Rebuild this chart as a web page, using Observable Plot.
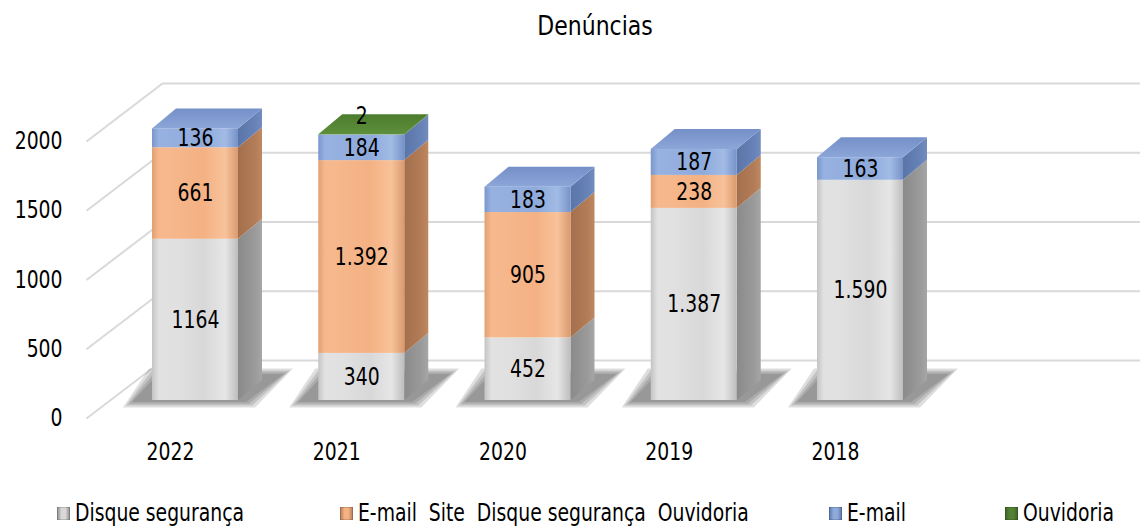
<!DOCTYPE html>
<html>
<head>
<meta charset="utf-8">
<script src="https://cdn.jsdelivr.net/npm/d3@7"></script>
<script src="https://cdn.jsdelivr.net/npm/@observablehq/plot@0.6"></script>
<style>
  html, body { margin: 0; padding: 0; background: #fff; }
  body { width: 1140px; height: 529px; position: relative; overflow: hidden;
         font-family: "Liberation Sans Narrow", "DejaVu Sans Condensed", "Arial Narrow", sans-serif; color: #000; }
  #title { position: absolute; top: 11px; left: 595px; transform: translateX(-50%) scaleX(0.94); font-size: 26px; white-space: nowrap; }
  #chart { position: absolute; top: 55px; left: 0; }
  .leg { position: absolute; top: 499px; height: 28px; display: flex; align-items: center; white-space: pre; }
  .leg span { display: inline-block; font-size: 24px; transform: scaleX(0.87); transform-origin: left center; }
  .sw { width: 13px; height: 13px; margin-right: 5px; flex: none; }
</style>
</head>
<body>
<svg width="0" height="0" style="position:absolute">
  <defs>
    <linearGradient id="fGray" x1="0" x2="1" y1="0" y2="0">
      <stop offset="0" stop-color="#c4c4c4"/><stop offset="0.08" stop-color="#e2e2e2"/><stop offset="0.3" stop-color="#e0e0e0"/><stop offset="0.6" stop-color="#d8d8d8"/><stop offset="0.85" stop-color="#e6e6e6"/><stop offset="1" stop-color="#bdbdbd"/>
    </linearGradient>
    <linearGradient id="fOrange" x1="0" x2="1" y1="0" y2="0">
      <stop offset="0" stop-color="#e29f72"/><stop offset="0.08" stop-color="#f6b98d"/><stop offset="0.3" stop-color="#f5b68a"/><stop offset="0.6" stop-color="#f4b183"/><stop offset="0.85" stop-color="#f8c29a"/><stop offset="1" stop-color="#d99a6e"/>
    </linearGradient>
    <linearGradient id="fBlue" x1="0" x2="1" y1="0" y2="0">
      <stop offset="0" stop-color="#7a96cc"/><stop offset="0.08" stop-color="#97b1e0"/><stop offset="0.3" stop-color="#94afdf"/><stop offset="0.6" stop-color="#8eaadb"/><stop offset="0.85" stop-color="#a2bbe5"/><stop offset="1" stop-color="#7792c8"/>
    </linearGradient>
    <linearGradient id="fGreen" x1="0" x2="1" y1="0" y2="0">
      <stop offset="0" stop-color="#4a7a2f"/><stop offset="0.5" stop-color="#5f9240"/><stop offset="1" stop-color="#4f8033"/>
    </linearGradient>
    <linearGradient id="sGray" x1="0" x2="1" y1="0" y2="0">
      <stop offset="0" stop-color="#8a8a8a"/><stop offset="0.7" stop-color="#9a9a9a"/><stop offset="1" stop-color="#a6a6a6"/>
    </linearGradient>
    <linearGradient id="sOrange" x1="0" x2="1" y1="0" y2="0">
      <stop offset="0" stop-color="#a46f4c"/><stop offset="0.7" stop-color="#b27c57"/><stop offset="1" stop-color="#bf8860"/>
    </linearGradient>
    <linearGradient id="sBlue" x1="0" x2="1" y1="0" y2="0">
      <stop offset="0" stop-color="#5a75a8"/><stop offset="0.7" stop-color="#6782b6"/><stop offset="1" stop-color="#728cc0"/>
    </linearGradient>
    <linearGradient id="sGreen" x1="0" x2="1" y1="0" y2="0">
      <stop offset="0" stop-color="#3b6324"/><stop offset="1" stop-color="#4a7530"/>
    </linearGradient>
    <linearGradient id="tGray" x1="0" x2="0" y1="1" y2="0">
      <stop offset="0" stop-color="#d0d0d0"/><stop offset="1" stop-color="#b8b8b8"/>
    </linearGradient>
    <linearGradient id="tOrange" x1="0" x2="0" y1="1" y2="0">
      <stop offset="0" stop-color="#eaa878"/><stop offset="1" stop-color="#d59464"/>
    </linearGradient>
    <linearGradient id="tBlue" x1="0" x2="0" y1="1" y2="0">
      <stop offset="0" stop-color="#8ca6d8"/><stop offset="1" stop-color="#7590c8"/>
    </linearGradient>
    <linearGradient id="tGreen" x1="0" x2="0" y1="1" y2="0">
      <stop offset="0" stop-color="#5d8f3c"/><stop offset="1" stop-color="#4c7d2e"/>
    </linearGradient>
  </defs>
</svg>
<div id="title">Denúncias</div>
<div id="chart"></div>
<div id="legend"></div>
<script>
// ---- data ----
const years = ["2022", "2021", "2020", "2019", "2018"];
const seriesNames = ["Disque segurança", "E-mail  Site  Disque segurança  Ouvidoria", "E-mail", "Ouvidoria"];
const disqueSeguranca = [1164, 340, 452, 1387, 1590];
const emailSiteDisqueOuvidoria = [661, 1392, 905, 238, 0];
const emailValues = [136, 184, 183, 187, 163];
const ouvidoriaValues = [0, 2, 0, 0, 0];
const disqueLabels = ["1164", "340", "452", "1.387", "1.590"];
const emailSiteLabels = ["661", "1.392", "905", "238", ""];
const emailLabels = ["136", "184", "183", "187", "163"];
const ouvidoriaLabels = ["", "2", "", "", ""];
const yTicks = [0, 500, 1000, 1500, 2000];

// ---- styling ----
const keys = ["Gray", "Orange", "Blue", "Green"];
const seriesValues = [disqueSeguranca, emailSiteDisqueOuvidoria, emailValues, ouvidoriaValues];
const seriesLabels = [disqueLabels, emailSiteLabels, emailLabels, ouvidoriaLabels];
const pxPerUnit = 277 / 2000;        // y pixels per value unit
const u = p => p / pxPerUnit;         // pixel offset -> value units
const xUnit = 166.25;                 // pixels per category
const px = p => p / xUnit;            // pixel offset -> category units
const hw = px(43);                    // half front width
const dd = px(24);                    // depth in x
const dv = u(20);                     // depth in y (value units)
const font = '"Liberation Sans Narrow", "DejaVu Sans Condensed", "Arial Narrow", sans-serif';
const FS = 24;

// ---- build segments ----
const segs = [];
years.forEach((yr, i) => {
  let acc = 0;
  seriesValues.forEach((vals, s) => {
    const v = vals[i];
    if (v > 0) {
      segs.push({i, s, yr, lo: acc, hi: acc + v, label: seriesLabels[s][i], id: yr + "-" + s});
      acc += v;
    }
  });
});
const tops = years.map((yr, i) => {
  const own = segs.filter(d => d.i === i);
  return own[own.length - 1];
});
const sidePts = segs.flatMap(d => [
  {id: d.id, s: d.s, x: d.i + hw, y1: d.lo, y2: d.hi},
  {id: d.id, s: d.s, x: d.i + hw + dd, y1: d.lo + dv, y2: d.hi + dv}
]);
const topPts = tops.flatMap(d => [
  {id: d.id, s: d.s, y: d.hi, x1: d.i - hw, x2: d.i + hw},
  {id: d.id, s: d.s, y: d.hi + dv, x1: d.i - hw + dd, x2: d.i + hw + dd}
]);
// soft floor shadow: a few nested footprints (feathered edge)
const shadowSpread = [9, 6, 3, 0];
const shadowMarks = shadowSpread.map(e => {
  const pts = years.flatMap((yr, i) => [
    {id: yr, y: u(-2 - e * 0.6), x1: i - hw - px(20 + e), x2: i + hw + px(8 + e)},
    {id: yr, y: u(26 + e * 0.6), x1: i - hw + px(6 - e), x2: i + hw + px(46 + e)}
  ]);
  return Plot.areaX(pts, {y: "y", x1: "x1", x2: "x2", z: "id", fill: "#3c3c3c", fillOpacity: 0.17});
});

const gridL = px(86 - 195), gridB = px(162 - 195), gridR = px(1145 - 195);

const chart = Plot.plot({
  width: 1140,
  height: 434,
  margin: 0,
  x: {domain: [0, 5], range: [195, 195 + 5 * xUnit], axis: null},
  y: {domain: [0, 2000], range: [345, 345 - 277], axis: null},
  color: {type: "identity"},
  style: {fontFamily: font, background: "transparent", overflow: "visible"},
  marks: [
    // back wall gridlines
    Plot.ruleY(yTicks, {y: d => d + u(40), x1: gridB, x2: gridR, stroke: "#d9d9d9", strokeWidth: 2}),
    // side wall gridlines
    Plot.link(yTicks, {x1: gridL, y1: d => d - u(18), x2: gridB, y2: d => d + u(40), stroke: "#d9d9d9", strokeWidth: 2}),
    // y tick labels
    Plot.text(yTicks, {x: px(62 - 195), y: d => d - u(18), text: d => String(d), textAnchor: "end", fontSize: FS, fill: "#000"}),
    // shadows
    ...shadowMarks,
    // side faces
    Plot.areaY(sidePts, {x: "x", y1: "y1", y2: "y2", z: "id", fill: d => `url(#s${keys[d.s]})`}),
    // top faces
    Plot.areaX(topPts, {y: "y", x1: "x1", x2: "x2", z: "id", fill: d => `url(#t${keys[d.s]})`}),
    // front faces
    Plot.rect(segs, {x1: d => d.i - hw, x2: d => d.i + hw, y1: "lo", y2: "hi", fill: d => `url(#f${keys[d.s]})`}),
    // value labels
    Plot.text(segs.filter(d => d.s < 3), {x: "i", y: d => (d.lo + d.hi) / 2, text: "label", fontSize: FS, fill: "#000"}),
    Plot.text(segs.filter(d => d.s === 3), {x: "i", y: "hi", dy: -19, text: "label", fontSize: FS, fill: "#000"}),
    // year labels
    Plot.text(years, {x: (d, i) => i, y: 0, dx: -25, dy: 52, text: d => d, fontSize: FS, fill: "#000"})
  ]
});
document.getElementById("chart").appendChild(chart);

// narrow the glyphs to match the condensed face of the reference
chart.querySelectorAll("text").forEach(t => {
  const tr = t.getAttribute("transform");
  if (tr) t.setAttribute("transform", tr + " scale(0.87,1)");
  else {
    const x = t.getAttribute("x") || 0, y = t.getAttribute("y") || 0;
    t.removeAttribute("x"); t.removeAttribute("y");
    t.setAttribute("transform", `translate(${x},${y}) scale(0.87,1)`);
  }
});

// ---- legend ----
const legendPos = [57, 340, 829, 1005];
const swBase = ["#d9d9d9", "#f4b183", "#8eaadb", "#548235"];
const swDark = ["#8a8a8a", "#b07a55", "#5a75a8", "#3b6324"];
const legend = document.getElementById("legend");
seriesNames.forEach((name, s) => {
  const item = document.createElement("div");
  item.className = "leg";
  item.style.left = legendPos[s] + "px";
  const sw = document.createElement("div");
  sw.className = "sw";
  sw.style.background = `linear-gradient(90deg, ${swDark[s]} 0%, ${swBase[s]} 35%, ${swBase[s]} 65%, ${swDark[s]} 100%)`;
  sw.style.boxShadow = "inset 0 0 0 1px rgba(0,0,0,0.15)";
  const t = document.createElement("span");
  t.textContent = name;
  item.appendChild(sw);
  item.appendChild(t);
  legend.appendChild(item);
});
</script>
</body>
</html>
